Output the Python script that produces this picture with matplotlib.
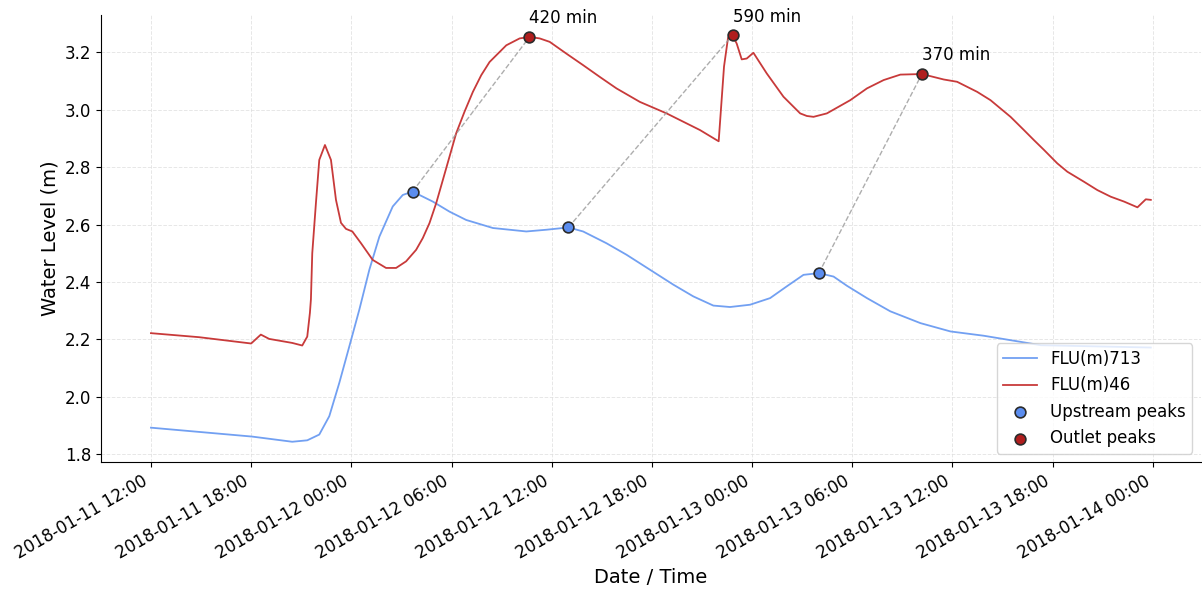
import pandas as pd
import matplotlib
matplotlib.use('Agg')
from matplotlib import pyplot as plt

start = pd.Timestamp('2018-01-11 12:00')

# upstream gauge FLU(m)713, hours after start / level (m)
up_hours = [0.0, 6.06, 8.46, 9.36, 10.08, 10.68, 11.28, 11.88, 12.48, 13.08,
            13.68, 14.48, 15.08, 15.67, 16.08, 16.88, 17.88, 18.88, 20.48, 22.48,
            23.68, 25.0, 25.88, 27.28, 28.48, 29.88, 31.28, 32.48, 33.68, 34.68,
            35.88, 37.08, 38.08, 39.08, 40.0, 40.88, 41.68, 42.88, 44.28, 46.08,
            47.88, 49.88, 53.3, 59.88]
up_level = [1.893, 1.862, 1.844, 1.849, 1.869, 1.933, 2.049, 2.176, 2.304, 2.443,
            2.558, 2.663, 2.703, 2.715, 2.703, 2.680, 2.645, 2.616, 2.588, 2.576,
            2.582, 2.590, 2.576, 2.535, 2.495, 2.443, 2.391, 2.350, 2.318, 2.313,
            2.321, 2.344, 2.385, 2.425, 2.431, 2.419, 2.387, 2.344, 2.298, 2.257,
            2.228, 2.213, 2.180, 2.172]

# outlet gauge FLU(m)46
out_hours = [0.0, 2.88, 6.0, 6.58, 7.08, 8.46, 9.06, 9.36, 9.52, 9.58,
             9.66, 9.88, 10.08, 10.42, 10.78, 11.08, 11.38, 11.68, 12.06, 12.58,
             13.28, 14.08, 14.68, 15.28, 15.88, 16.28, 16.68, 17.08, 17.48, 18.28,
             18.78, 19.28, 19.78, 20.28, 21.28, 22.08, 22.67, 23.28, 23.88, 24.88,
             25.88, 26.88, 27.88, 29.28, 30.88, 31.88, 32.88, 33.88, 34.0, 34.32,
             34.56, 34.83, 35.08, 35.38, 35.68, 36.08, 36.88, 37.88, 38.88, 39.28,
             39.68, 40.48, 41.88, 42.88, 43.88, 44.88, 46.17, 47.48, 48.28, 49.48,
             50.28, 50.88, 51.48, 52.28, 52.88, 53.48, 54.28, 54.88, 55.88, 56.68,
             57.48, 58.28, 59.08, 59.58, 59.88]
out_level = [2.222, 2.208, 2.186, 2.217, 2.202, 2.188, 2.179, 2.210, 2.293, 2.340,
             2.500, 2.675, 2.825, 2.877, 2.825, 2.686, 2.606, 2.585, 2.576, 2.535,
             2.477, 2.449, 2.449, 2.472, 2.512, 2.553, 2.605, 2.674, 2.755, 2.918,
             2.993, 3.062, 3.120, 3.166, 3.224, 3.248, 3.253, 3.248, 3.236, 3.195,
             3.155, 3.114, 3.074, 3.027, 2.987, 2.958, 2.929, 2.894, 2.890, 3.150,
             3.250, 3.259, 3.230, 3.175, 3.178, 3.198, 3.126, 3.045, 2.987, 2.978,
             2.975, 2.987, 3.033, 3.074, 3.103, 3.122, 3.124, 3.105, 3.097, 3.062,
             3.033, 3.004, 2.975, 2.929, 2.894, 2.860, 2.813, 2.784, 2.749, 2.720,
             2.697, 2.680, 2.660, 2.688, 2.686]

# matched peaks (hours after start)
up_peak_hours = [15.67, 25.0, 40.0]
out_peak_hours = [22.67, 34.83, 46.17]

up_t = start + pd.to_timedelta(up_hours, unit='h')
out_t = start + pd.to_timedelta(out_hours, unit='h')
up_s = pd.Series(up_level, index=up_t)
out_s = pd.Series(out_level, index=out_t)

up_pk = [start + pd.Timedelta(hours=h) for h in up_peak_hours]
out_pk = [start + pd.Timedelta(hours=h) for h in out_peak_hours]
up_pk_val = [up_s.iloc[up_s.index.get_indexer([t], method='nearest')[0]] for t in up_pk]
out_pk_val = [out_s.iloc[out_s.index.get_indexer([t], method='nearest')[0]] for t in out_pk]

fig = plt.figure(figsize=(12.02, 5.97), dpi=100)
ax = fig.add_axes([0.084, 0.226, 0.915, 0.749])

ax.plot(up_s.index, up_s.values, color='#72a0f2', lw=1.3, label='FLU(m)713')
ax.plot(out_s.index, out_s.values, color='#c83a3a', lw=1.3, label='FLU(m)46')

for t0, v0, t1, v1 in zip(up_pk, up_pk_val, out_pk, out_pk_val):
    ax.plot([t0, t1], [v0, v1], ls='--', color='#999999', lw=1, alpha=0.8, zorder=2)
    lag = int(round((t1 - t0).total_seconds() / 60 / 10.0) * 10)
    ax.annotate('%d min' % lag, (t1, v1), xytext=(0, 7), textcoords='offset points',
                ha='left', va='bottom', fontsize=12)

ax.scatter(up_pk, up_pk_val, s=60, color='#5b8def', edgecolor='#2b2b2b', lw=1.2,
           zorder=4, label='Upstream peaks')
ax.scatter(out_pk, out_pk_val, s=60, color='#b01e1e', edgecolor='#2b2b2b', lw=1.2,
           zorder=4, label='Outlet peaks')

ax.set_xticks(pd.date_range('2018-01-11 12:00', '2018-01-14 00:00', freq='6h'))
ax.xaxis.set_major_formatter(matplotlib.dates.DateFormatter('%Y-%m-%d %H:%M'))
ax.grid(True, ls='--', color='#dddddd', lw=0.7, alpha=0.7)
ax.spines['top'].set_visible(False)
ax.spines['right'].set_visible(False)
ax.tick_params(axis='both', labelsize=12)
plt.setp(ax.get_xticklabels(), rotation=30, ha='right')
ax.set_xlabel('Date / Time', fontsize=14)
ax.set_ylabel('Water Level (m)', fontsize=14)
ax.legend(loc='lower right', fontsize=12)

fig.savefig('out.png', dpi=100)
